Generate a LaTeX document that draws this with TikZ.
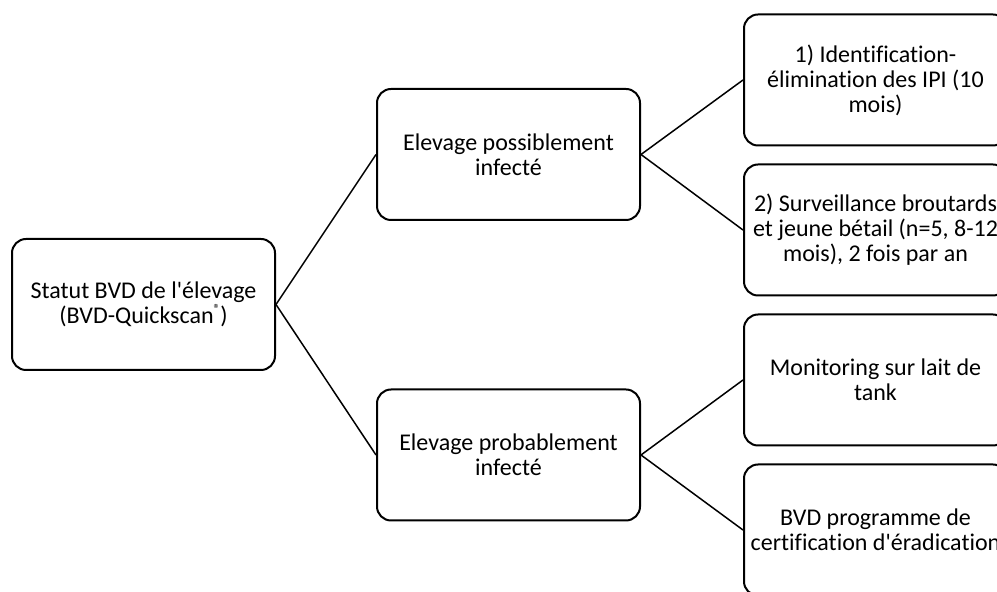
\documentclass[tikz,border=0pt]{standalone}
\usepackage{fontspec}
\setmainfont[Ligatures={NoCommon}]{Carlito}
\begin{document}
\begin{tikzpicture}[x=0.5pt,y=-0.5pt,line join=round,
  stepbox/.style={draw,line width=1pt,rounded corners=7pt,minimum width=131.5pt,minimum height=65.5pt,inner sep=0,align=center,font=\fontsize{12}{12.5}\selectfont}]
\useasboundingbox(0,0)rectangle(997,592);
\node[stepbox](stat)at(143.5,304.5){Statut BVD de l\textquotesingle élevage\\(BVD-Quickscan\raisebox{0.9ex}{\scalebox{0.55}{\textregistered}})};
\node[stepbox](poss)at(508.5,154.5){Elevage possiblement\\infecté};
\node[stepbox](prob)at(508.5,455){Elevage probablement\\infecté};
\node[stepbox](r1)at(875.5,80){1) Identification-\\élimination des IPI (10\\mois)};
\node[stepbox](r2)at(875.5,230){2) Surveillance broutards\\et jeune bétail (n=5, 8-12\\mois), 2 fois par an};
\node[stepbox](r3)at(875.5,380){Monitoring sur lait de\\tank};
\node[stepbox](r4)at(875.5,530){BVD programme de\\certification d\textquotesingle éradication};
\foreach \a/\b in {stat/poss,stat/prob,poss/r1,poss/r2,prob/r3,prob/r4}\draw[line width=0.75pt](\a.east)--(\b.west);
\end{tikzpicture}
\end{document}
